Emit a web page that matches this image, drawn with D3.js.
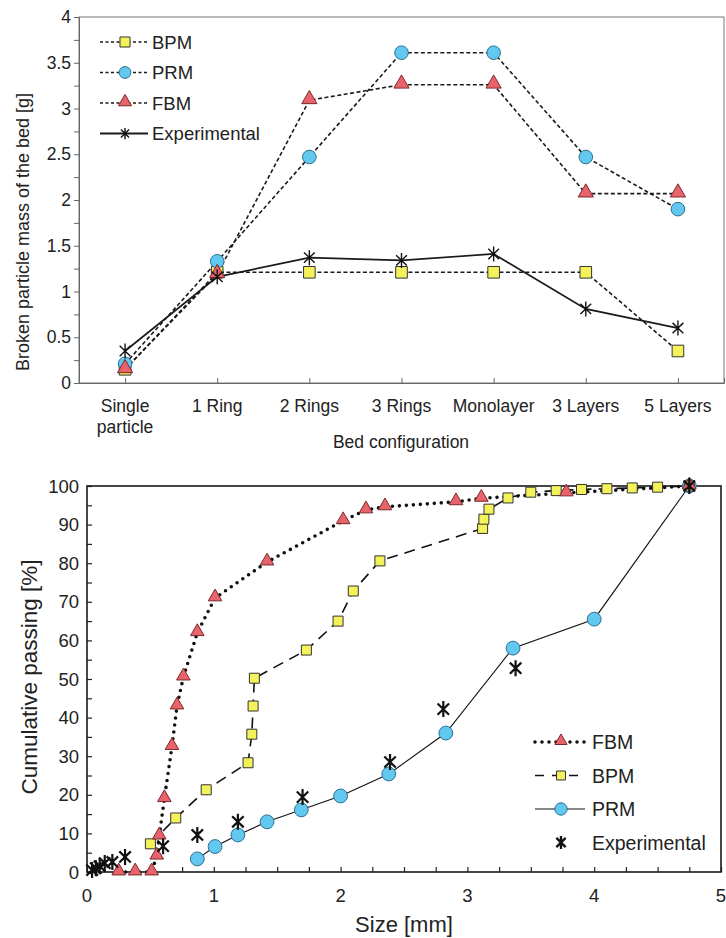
<!DOCTYPE html>
<html>
<head>
<meta charset="utf-8">
<script src="https://cdn.jsdelivr.net/npm/d3@7"></script>
<style>
  body { margin: 0; background: #fff; }
  svg { font-family: "Liberation Sans", Arial, sans-serif; }
</style>
</head>
<body>
<div id="chart"></div>
<script>
// top panel: broken mass per bed configuration
var beds = ["Single particle", "1 Ring", "2 Rings", "3 Rings", "Monolayer", "3 Layers", "5 Layers"];
var bpmMass = [0.15, 1.21, 1.21, 1.21, 1.21, 1.21, 0.35];
var prmMass = [0.21, 1.33, 2.47, 3.61, 3.61, 2.47, 1.9];
var fbmMass = [0.15, 1.19, 3.09, 3.26, 3.26, 2.07, 2.07];
var expMass = [0.35, 1.16, 1.37, 1.34, 1.41, 0.81, 0.6];
var massTicks = [0, 0.5, 1, 1.5, 2, 2.5, 3, 3.5, 4];

// bottom panel: cumulative passing vs size
var fbmSize = [0.25, 0.38, 0.51, 0.55, 0.57, 0.61, 0.67, 0.71, 0.76, 0.87, 1.01, 1.42, 2.02, 2.2, 2.35, 2.91, 3.11, 3.78, 4.75];
var fbmPass = [0, 0, 0, 4.1, 9.3, 19, 32.5, 43, 50.5, 62, 71, 80.3, 91, 93.8, 94.6, 95.9, 96.8, 98.2, 100];
var bpmSize = [0.5, 0.7, 0.94, 1.27, 1.3, 1.31, 1.32, 1.73, 1.98, 2.1, 2.31, 3.12, 3.13, 3.17, 3.32, 3.5, 3.7, 3.9, 4.1, 4.3, 4.5, 4.75];
var bpmPass = [7.3, 14, 21.3, 28.3, 35.7, 43, 50.2, 57.5, 65, 72.8, 80.6, 89, 91.4, 94, 96.9, 98.4, 98.8, 99.1, 99.3, 99.5, 99.7, 100];
var prmSize = [0.87, 1.01, 1.19, 1.42, 1.69, 2.0, 2.38, 2.83, 3.36, 4.0, 4.75];
var prmPass = [3.4, 6.6, 9.6, 13, 16.1, 19.7, 25.4, 36, 58, 65.5, 100];
var expSize = [0.04, 0.07, 0.1, 0.14, 0.2, 0.3, 0.6, 0.87, 1.19, 1.7, 2.39, 2.81, 3.38, 4.75];
var expPass = [0.5, 1, 1.5, 2.3, 2.6, 3.9, 6.7, 9.6, 13, 19.4, 28.5, 42.2, 52.8, 100];

var W = 726, H = 938;
var yellow = "#f4f25a", blue = "#63c8ef", red = "#e8636b";

var svg = d3.select("#chart").append("svg")
    .attr("width", W)
    .attr("height", H);

// 6-armed asterisk marker
function asterisk(r, a) {
    var p = d3.path();
    p.moveTo(0, -r); p.lineTo(0, r);
    p.moveTo(-r * Math.sin(a), -r * Math.cos(a)); p.lineTo(r * Math.sin(a), r * Math.cos(a));
    p.moveTo(r * Math.sin(a), -r * Math.cos(a)); p.lineTo(-r * Math.sin(a), r * Math.cos(a));
    return p.toString();
}

function drawMarker(g, type, x, y, size, sw) {
    if (type == "star") {
        g.append("path").attr("d", asterisk(size, 0.8))
            .attr("transform", "translate(" + x + "," + y + ")")
            .attr("stroke", "#111").attr("stroke-width", sw || 1.5).attr("fill", "none");
        return;
    }
    var sym = {square: d3.symbolSquare, circle: d3.symbolCircle, triangle: d3.symbolTriangle}[type];
    var fill = {square: yellow, circle: blue, triangle: red}[type];
    var stroke = {square: "#333", circle: "#2a6f8f", triangle: "#7a2a2a"}[type];
    g.append("path").attr("d", d3.symbol().type(sym).size(size)())
        .attr("transform", "translate(" + x + "," + (type == "triangle" ? y - 1 : y) + ")")
        .attr("fill", fill).attr("stroke", stroke).attr("stroke-width", 1);
}

// ---------------- top panel ----------------
var t = {left: 79, right: 724, top: 17, bottom: 383};
var tx = d3.scalePoint().domain(beds).range([t.left, t.right]).padding(0.5);
var ty = d3.scaleLinear().domain([0, 4]).range([t.bottom, t.top]);
var topG = svg.append("g");

topG.append("rect")
    .attr("x", t.left).attr("y", t.top)
    .attr("width", t.right - t.left).attr("height", t.bottom - t.top)
    .attr("fill", "none").attr("stroke", "#777").attr("stroke-width", 1);

topG.append("g")
    .attr("transform", "translate(" + t.left + ",0)")
    .call(d3.axisLeft(ty).tickValues(d3.range(0, 4.01, 0.25)).tickSize(5).tickFormat(""))
    .call(g => g.select(".domain").attr("stroke", "#666"))
    .call(g => g.selectAll("line").attr("stroke", "#666"));

topG.selectAll(".ylab").data(massTicks).enter().append("text")
    .attr("x", t.left - 8).attr("y", d => ty(d) + 6)
    .attr("text-anchor", "end").attr("font-size", 17.5).attr("fill", "#222")
    .text(d => d);

topG.append("g")
    .attr("transform", "translate(0," + t.bottom + ")")
    .call(d3.axisBottom(tx).tickSize(-5).tickFormat(""))
    .call(g => g.select(".domain").attr("stroke", "#666"))
    .call(g => g.selectAll("line").attr("stroke", "#666"));

beds.forEach(function(b) {
    var parts = b == "Single particle" ? ["Single", "particle"] : [b];
    parts.forEach(function(s, i) {
        topG.append("text")
            .attr("x", tx(b)).attr("y", 412 + i * 21)
            .attr("text-anchor", "middle").attr("font-size", 17.5).attr("fill", "#222")
            .text(s);
    });
});

topG.append("text")
    .attr("x", 401).attr("y", 448)
    .attr("text-anchor", "middle").attr("font-size", 17.5).attr("fill", "#222")
    .text("Bed configuration");

topG.append("text")
    .attr("transform", "translate(29,232) rotate(-90)")
    .attr("text-anchor", "middle").attr("font-size", 18).attr("fill", "#222")
    .text("Broken particle mass of the bed [g]");

var topSeries = [
    {name: "BPM", vals: bpmMass, mark: "square", dash: "4,2.5", size: 135},
    {name: "PRM", vals: prmMass, mark: "circle", dash: "4,2.5", size: 145},
    {name: "FBM", vals: fbmMass, mark: "triangle", dash: "4,2.5", size: 100},
    {name: "Experimental", vals: expMass, mark: "star", dash: null, size: 7.5}
];

var topLine = d3.line().x((d, i) => tx(beds[i])).y(d => ty(d));

topSeries.forEach(function(s) {
    topG.append("path").attr("d", topLine(s.vals))
        .attr("fill", "none").attr("stroke", "#1a1a1a")
        .attr("stroke-width", s.dash ? 1.6 : 1.7)
        .attr("stroke-dasharray", s.dash);
});
topSeries.forEach(function(s) {
    s.vals.forEach((v, i) => drawMarker(topG, s.mark, tx(beds[i]), ty(v), s.size, 1.4));
});

// legend
topSeries.forEach(function(s, i) {
    var y = 42 + i * 30.5;
    topG.append("line").attr("x1", 100).attr("x2", 148).attr("y1", y).attr("y2", y)
        .attr("stroke", "#1a1a1a").attr("stroke-width", s.dash ? 1.4 : 2.2)
        .attr("stroke-dasharray", s.dash ? "3,2.5" : null);
    drawMarker(topG, s.mark, 125, y, s.size * 0.75, 1.4);
    topG.append("text").attr("x", 152).attr("y", y + 6.5)
        .attr("font-size", 18.5).attr("fill", "#222").text(s.name);
});

// ---------------- bottom panel ----------------
var b = {left: 87, right: 721, top: 486, bottom: 872};
var bx = d3.scaleLinear().domain([0, 5]).range([b.left, b.right]);
var by = d3.scaleLinear().domain([0, 100]).range([b.bottom, b.top]);
var bot = svg.append("g");

bot.append("g")
    .attr("transform", "translate(0," + b.bottom + ")")
    .call(d3.axisBottom(bx).tickValues(d3.range(0, 5.01, 0.25)).tickSize(-5).tickFormat(""))
    .call(g => g.selectAll("line").attr("stroke", "#222").attr("stroke-width", 1.2));

bot.append("g")
    .attr("transform", "translate(" + b.left + ",0)")
    .call(d3.axisLeft(by).tickValues(d3.range(0, 101, 5)).tickSize(-5).tickFormat(""))
    .call(g => g.selectAll("line").attr("stroke", "#222").attr("stroke-width", 1.2));

bot.selectAll(".domain").remove();

bot.append("rect")
    .attr("x", b.left).attr("y", b.top)
    .attr("width", b.right - b.left).attr("height", b.bottom - b.top)
    .attr("fill", "none").attr("stroke", "#1a1a1a").attr("stroke-width", 1.6);

bot.selectAll(".yl").data(d3.range(0, 101, 10)).enter().append("text")
    .attr("x", b.left - 8).attr("y", d => by(d) + 6.5)
    .attr("text-anchor", "end").attr("font-size", 18.5).attr("fill", "#222")
    .text(d => d);

bot.selectAll(".xl").data(d3.range(0, 6)).enter().append("text")
    .attr("x", d => bx(d)).attr("y", 902)
    .attr("text-anchor", "middle").attr("font-size", 18.5).attr("fill", "#222")
    .text(d => d);

bot.append("text")
    .attr("x", 404).attr("y", 932)
    .attr("text-anchor", "middle").attr("font-size", 22).attr("fill", "#222")
    .text("Size [mm]");

bot.append("text")
    .attr("transform", "translate(37,677) rotate(-90)")
    .attr("text-anchor", "middle").attr("font-size", 22.5).attr("fill", "#222")
    .text("Cumulative passing [%]");

var botSeries = [
    {name: "FBM", xs: fbmSize, ys: fbmPass, mark: "triangle", size: 80, dash: "0,7", width: 3.6, cap: "round", line: true},
    {name: "BPM", xs: bpmSize, ys: bpmPass, mark: "square", size: 100, dash: "11,7", width: 1.6, cap: "butt", line: true},
    {name: "PRM", xs: prmSize, ys: prmPass, mark: "circle", size: 150, dash: null, width: 1.1, cap: "butt", line: true},
    {name: "Experimental", xs: expSize, ys: expPass, mark: "star", size: 8, line: false}
];

botSeries.forEach(function(s) {
    if (!s.line) return;
    var pts = s.xs.map((x, i) => [bx(x), by(s.ys[i])]);
    bot.append("path").attr("d", d3.line()(pts))
        .attr("fill", "none").attr("stroke", "#111")
        .attr("stroke-width", s.width).attr("stroke-linecap", s.cap)
        .attr("stroke-dasharray", s.dash);
});
[botSeries[2], botSeries[1], botSeries[0], botSeries[3]].forEach(function(s) {
    s.xs.forEach((x, i) => drawMarker(bot, s.mark, bx(x), by(s.ys[i]), s.size, 2.2));
});

// legend
botSeries.forEach(function(s, i) {
    var y = 742 + i * 33.5;
    if (s.line) {
        bot.append("line").attr("x1", 535).attr("x2", 585).attr("y1", y).attr("y2", y)
            .attr("stroke", "#111").attr("stroke-width", s.width).attr("stroke-linecap", s.cap)
            .attr("stroke-dasharray", s.name == "BPM" ? "9,8" : s.dash);
    }
    drawMarker(bot, s.mark, 561, y, s.name == "Experimental" ? 6.5 : s.size * 0.8, 2.4);
    bot.append("text").attr("x", 592).attr("y", y + 7)
        .attr("font-size", 19.5).attr("fill", "#222").text(s.name);
});
</script>
</body>
</html>
